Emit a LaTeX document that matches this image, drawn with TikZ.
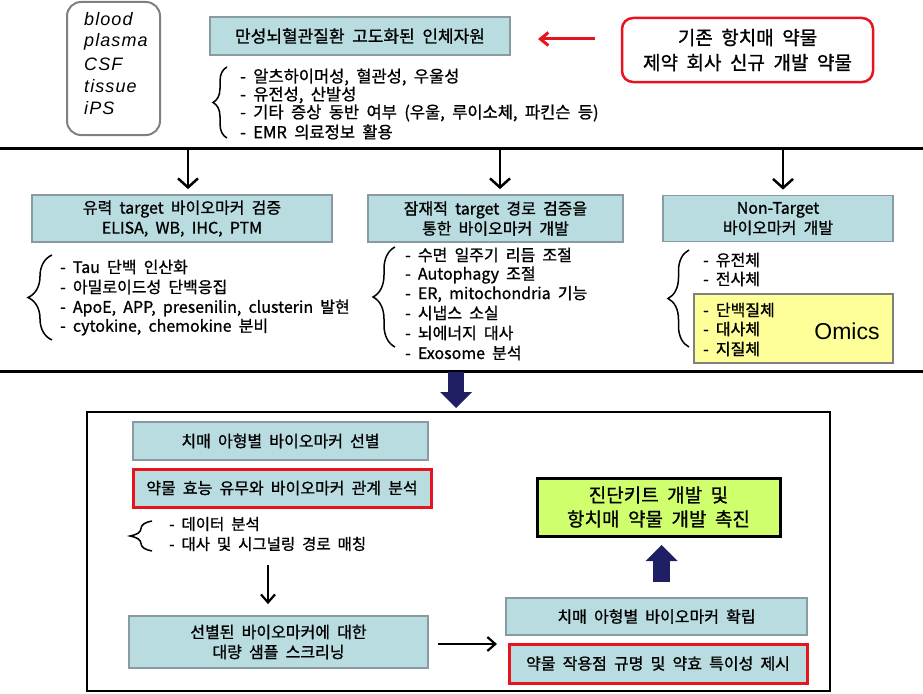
\documentclass[tikz,border=0pt]{standalone}
\usepackage{fontspec}
\setmainfont{Liberation Sans}
\newfontfamily\kr[WordSpace=2,FakeBold=1]{Noto Sans CJK KR}
\newfontfamily\srcfont[LetterSpace=6]{Liberation Sans}
\usetikzlibrary{arrows.meta,decorations.pathreplacing}
\definecolor{boxfill}{RGB}{184,220,224}
\definecolor{boxedge}{RGB}{135,155,160}
\definecolor{srcedge}{RGB}{128,128,128}
\definecolor{redc}{RGB}{230,20,30}
\definecolor{navyc}{RGB}{31,31,102}
\definecolor{yellowc}{RGB}{255,255,153}
\definecolor{greenc}{RGB}{208,255,110}
\begin{document}
\begin{tikzpicture}[x=1pt,y=-1pt,
  tbox/.style={draw=boxedge, line width=1.8pt, fill=boxfill, inner sep=0pt, align=center, font=\kr\fontsize{16}{20}\selectfont},
  rbox/.style={tbox, draw=redc, line width=3pt},
  srcbox/.style={draw=srcedge, line width=2pt, rounded corners=14pt, inner sep=0pt},
  redbox/.style={draw=redc, line width=2.5pt, rounded corners=11pt, fill=white, inner sep=0pt, align=center, font=\kr\fontsize{19}{25}\selectfont},
  gbox/.style={draw=black, line width=3pt, fill=greenc, inner sep=0pt, align=center, font=\kr\fontsize{19}{24}\selectfont},
  ybox/.style={draw=srcedge, line width=2pt, fill=yellowc, inner sep=0pt},
  itl/.style={anchor=west, inner sep=0pt, font=\srcfont\itshape\fontsize{18}{20}\selectfont},
  item/.style={anchor=west, inner sep=0pt, font=\kr\fontsize{16}{19}\selectfont},
  sitem/.style={anchor=west, inner sep=0pt, font=\kr\fontsize{15.5}{19}\selectfont},
  brc/.style={decorate, line width=1.5pt, decoration={brace, amplitude=#1}},
  arr/.style={line width=2.5pt, -{Straight Barb[length=9pt,width=20pt]}},
  arr2/.style={line width=2.2pt, -{Straight Barb[length=8pt,width=14pt]}},
  redarr/.style={draw=redc, line width=3pt, -{Straight Barb[length=8pt,width=13pt]}},
  navyarr/.style={draw=navyc, line width=16pt, -{Triangle[length=16pt,width=32pt,line width=0pt]}}
]
\useasboundingbox (0,0) rectangle (923,693);

% ---------- top section ----------
\node[srcbox, minimum width=93pt, minimum height=133pt] (src) at (113.5,68.5) {};
\node[itl] (s1) at (84,19) {blood};
\node[itl] (s2) at (84,42) {plasma};
\node[itl] (s3) at (84,64) {CSF};
\node[itl] (s4) at (84,86) {tissue};
\node[itl] (s5) at (84,108) {iPS};

\node[tbox, minimum width=300pt, minimum height=38pt, font=\kr\fontsize{17}{20}\selectfont] (A) at (360,36) {만성뇌혈관질환 고도화된 인체자원};
\node[redbox, minimum width=251pt, minimum height=64pt] (R) at (747.5,50) {기존 항치매 약물\\제약 회사 신규 개발 약물};
\coordinate (ra) at (595,39);
\coordinate (rb) at (538,39);
\draw[redarr] (ra) -- (rb);

\draw[brc=14pt] (227,138) -- (227,67);
\node[item, font=\kr\fontsize{16.5}{19}\selectfont] (a1) at (240,77) {- 알츠하이머성, 혈관성, 우울성};
\node[item, font=\kr\fontsize{16.5}{19}\selectfont] (a2) at (240,95) {- 유전성, 산발성};
\node[item, font=\kr\fontsize{16.5}{19}\selectfont] (a3) at (240,113) {- 기타 증상 동반 여부 (우울, 루이소체, 파킨슨 등)};
\node[item, font=\kr\fontsize{16.5}{19}\selectfont] (a4) at (240,132) {- EMR 의료정보 활용};

\draw[line width=3pt] (0,148) -- (923,148);

% ---------- middle section ----------
\node[tbox, minimum width=300pt, minimum height=47pt] (B1) at (182,218.5) {유력 target 바이오마커 검증\\ELISA, WB, IHC, PTM};
\node[tbox, minimum width=255pt, minimum height=47pt] (B2) at (495.5,218.5) {잠재적 target 경로 검증을\\통한 바이오마커 개발};
\node[tbox, minimum width=230pt, minimum height=46pt] (B3) at (778,218.5) {Non-Target\\바이오마커 개발};

\coordinate (d1) at (188,149);
\coordinate (d2) at (500,149);
\coordinate (d3) at (783,149);
\draw[arr, shorten >=5pt] (d1) -- (d1 |- B1.north);
\draw[arr, shorten >=5pt] (d2) -- (d2 |- B2.north);
\draw[arr, shorten >=5pt] (d3) -- (d3 |- B3.north);

\draw[brc=24pt] (52,340) -- (52,255);
\node[item] (b11) at (60,267) {- Tau 단백 인산화};
\node[item] (b12) at (60,287) {- 아밀로이드성 단백응집};
\node[item] (b13) at (60,308) {- ApoE, APP, presenilin, clusterin 발현};
\node[item] (b14) at (60,327) {- cytokine, chemokine 분비};

\draw[brc=22pt] (395,347) -- (395,247);
\node[item] (b21) at (405,255) {- 수면 일주기 리듬 조절};
\node[item] (b22) at (405,275) {- Autophagy 조절};
\node[item] (b23) at (405,294) {- ER, mitochondria 기능};
\node[item] (b24) at (405,313) {- 시냅스 소실};
\node[item] (b25) at (405,333) {- 뇌에너지 대사};
\node[item] (b26) at (405,353) {- Exosome 분석};

\node[ybox, minimum width=199pt, minimum height=69pt] (Y) at (793.5,328.5) {};
\draw[brc=21pt] (689,347) -- (689,250);
\node[item] (b31) at (703,260) {- 유전체};
\node[item] (b32) at (703,279) {- 전사체};
\node[item] (b33) at (703,310) {- 단백질체};
\node[item] (b34) at (703,329) {- 대사체};
\node[item] (b35) at (703,349) {- 지질체};
\node[inner sep=0pt, font=\fontsize{23}{25}\selectfont] (om) at (847,331) {Omics};

\draw[line width=3pt] (0,371) -- (923,371);

% ---------- bottom section ----------
\coordinate (n1) at (456,372);
\coordinate (n2) at (456,408);
\draw[navyarr] (n1) -- (n2);

\node[draw, line width=2pt, minimum width=743pt, minimum height=279pt, inner sep=0pt] (big) at (458.5,551.5) {};

\node[tbox, minimum width=295pt, minimum height=38pt] (C1) at (280.5,441) {치매 아형별 바이오마커 선별};
\node[rbox, minimum width=298pt, minimum height=38pt] (C2) at (282,488) {약물 효능 유무와 바이오마커 관계 분석};
\draw[brc=22pt] (152,551) -- (152,521);
\node[sitem] (c1) at (169,524) {- 데이터 분석};
\node[sitem] (c2) at (169,544) {- 대사 및 시그널링 경로 매칭};

\node[tbox, minimum width=299pt, minimum height=52pt] (C3) at (278.5,642) {선별된 바이오마커에 대한\\대량 샘플 스크리닝};
\coordinate (cA) at (268,565);
\draw[arr2, shorten >=11pt] (cA) -- (cA |- C3.north);

\node[tbox, minimum width=301pt, minimum height=37pt] (D1) at (656.5,616.5) {치매 아형별 바이오마커 확립};
\node[rbox, minimum width=298pt, minimum height=39pt] (D2) at (658,663.5) {약물 작용점 규명 및 약효 특이성 제시};
\coordinate (cB) at (497,644);
\draw[arr2, shorten <=9pt] (C3.east |- cB) -- (cB);

\node[gbox, minimum width=243pt, minimum height=58pt] (E) at (658.5,507) {진단키트 개발 및\\항치매 약물 개발 촉진};
\coordinate (u1) at (661.5,582);
\coordinate (u2) at (661.5,545);
\draw[navyarr, line width=17pt] (u1) -- (u2);
\end{tikzpicture}
\end{document}
